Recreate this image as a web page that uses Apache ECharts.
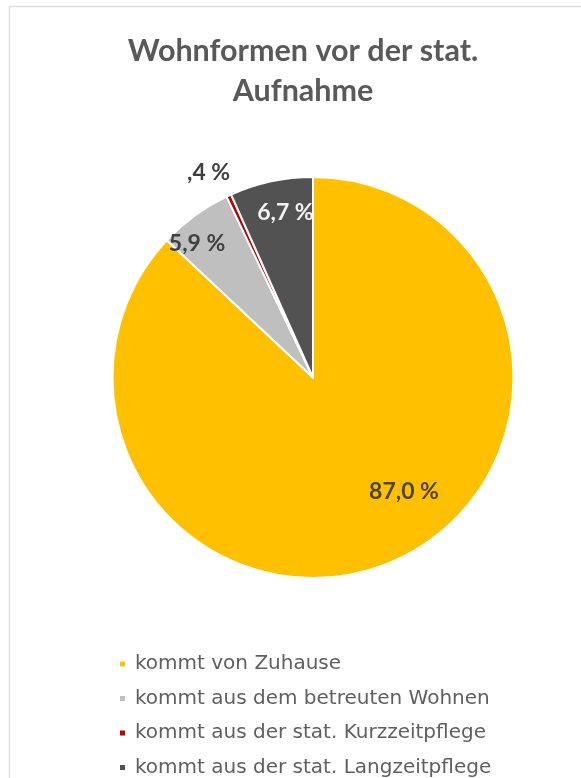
<!DOCTYPE html>
<html>
<head>
<meta charset="utf-8">
<script src="https://cdn.jsdelivr.net/npm/echarts@6/dist/echarts.min.js"></script>
<style>
  html, body { margin: 0; padding: 0; background: #ffffff; }
  #chart { width: 581px; height: 778px; }
</style>
</head>
<body>
<div id="chart"></div>
<script>
// Wohnformen vor der stationären Aufnahme (Anteile in %)
const titleText = 'Wohnformen vor der stat.\nAufnahme';
const categories = [
  'kommt von Zuhause',
  'kommt aus dem betreuten Wohnen',
  'kommt aus der stat. Kurzzeitpflege',
  'kommt aus der stat. Langzeitpflege'
];
const shares = [87.0, 5.9, 0.4, 6.7];
const valueLabels = ['87,0 %', '5,9 %', ',4 %', '6,7 %'];

// styling per slice
const sliceColors = ['#FFC000', '#BFBFBF', '#C00000', '#525252'];
const labelColors = ['#4f4424', '#404040', '#404040', '#f2f2f2'];
const labelOffsets = [[50, 19], [-55, -51], [-61, -111], [-6, -64]];

const chart = echarts.init(document.getElementById('chart'), null, { renderer: 'canvas' });

const pieData = categories.map((name, i) => ({
  name: name,
  value: shares[i],
  itemStyle: { color: sliceColors[i] },
  label: {
    formatter: valueLabels[i],
    color: labelColors[i],
    offset: labelOffsets[i]
  }
}));

chart.setOption({
  animation: false,
  backgroundColor: '#ffffff',
  textStyle: { fontFamily: 'Lato, "Open Sans", sans-serif' },
  graphic: [{
    type: 'rect',
    shape: { x: 9.5, y: 6.5, width: 620, height: 820 },
    style: { fill: null, stroke: '#dedede', lineWidth: 1.5 },
    silent: true
  }],
  title: {
    text: titleText,
    left: 298,
    textAlign: 'center',
    top: 26,
    textStyle: {
      fontFamily: 'Lato, "Open Sans", sans-serif',
      fontSize: 30.5,
      fontWeight: 'bold',
      color: '#595959',
      lineHeight: 40
    }
  },
  legend: {
    orient: 'vertical',
    left: 118,
    top: 654,
    padding: 0,
    icon: 'rect',
    itemWidth: 7,
    itemHeight: 7,
    itemGap: 14.5,
    selectedMode: false,
    textStyle: {
      fontFamily: '"DejaVu Sans", "Open Sans", sans-serif',
      fontSize: 20,
      color: '#5f5f5f',
      lineHeight: 20,
      padding: [0, 0, 0, 4]
    },
    data: categories
  },
  series: [{
    type: 'pie',
    center: [313, 377.5],
    radius: [0, 200.5],
    startAngle: 90,
    clockwise: true,
    avoidLabelOverlap: false,
    itemStyle: { borderColor: '#ffffff', borderWidth: 2 },
    label: {
      show: true,
      position: 'inside',
      fontFamily: 'Lato, "Open Sans", sans-serif',
      fontSize: 23,
      fontWeight: 'bold'
    },
    labelLine: { show: false },
    emphasis: { disabled: true },
    data: pieData
  }]
});
</script>
</body>
</html>
